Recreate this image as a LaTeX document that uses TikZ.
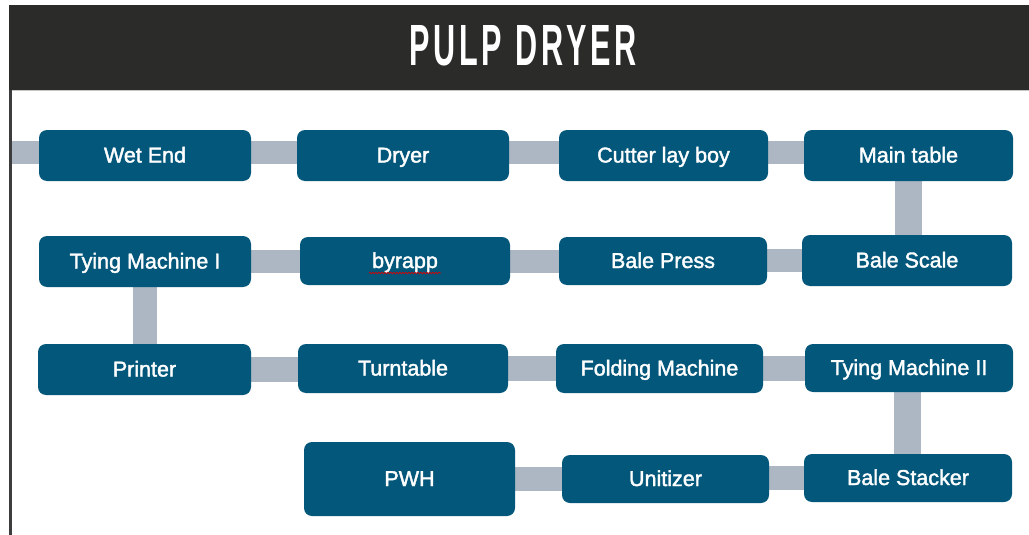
\documentclass[tikz,border=0pt]{standalone}
\usepackage{fontspec}
\setmainfont{Liberation Sans}
\newfontfamily\stagefont[FakeBold=1.8]{Liberation Sans}
\newfontfamily\titlefont[LetterSpace=12]{Liberation Sans Bold}
\usetikzlibrary{calc,decorations.pathmorphing,backgrounds}
\definecolor{boxblue}{HTML}{03577A}
\definecolor{bandgray}{HTML}{ADB7C3}
\definecolor{headdark}{HTML}{2B2B29}
\definecolor{edgegray}{HTML}{3C3C3C}
\tikzset{
  stage/.style={fill=boxblue, rounded corners=8pt, inner sep=0pt,
    text=white, font=\stagefont\fontsize{21.5}{24}\selectfont,
    text height=16.5pt, text depth=2.5pt,
    minimum width=#1, minimum height=49pt},
  stage/.default=209pt,
  band/.style={draw=bandgray, line width=23pt},
}
\begin{document}
\begin{tikzpicture}[x=1pt, y=-1pt]
  \useasboundingbox (0,0) rectangle (1029,535);

  % title bar
  \fill[headdark] (9,5) rectangle (1029,90);
  \draw[gray!45, line width=1pt] (9,90.5) -- (1029,90.5);
  \draw[edgegray, line width=2.5pt] (10.5,90) -- (10.5,535);
  \node (title) at (523,46) {\color{white}\resizebox{227pt}{40pt}{\titlefont PULP\hspace{0.45em}DRYER}};

  % stages, row by row
  \node[stage=212pt, minimum height=51pt] (wet)   at (145,155.5) {Wet End};
  \node[stage=212pt, minimum height=51pt] (dry)   at (403,155.5) {Dryer};
  \node[stage, minimum height=51pt]       (cut)   at (663.5,155.5) {Cutter lay boy};
  \node[stage, minimum height=51pt]       (main)  at (908.5,155.5) {Main table};

  \node[stage=212pt, minimum height=51pt] (tyone) at (145,261.5) {Tying Machine I};
  \node[stage=210pt, minimum height=48pt] (byr)   at (405,261) {byrapp};
  \node[stage=208pt, minimum height=48pt] (press) at (663,261) {Bale Press};
  \node[stage=210pt, minimum height=51pt] (scale) at (907,260.5) {Bale Scale};

  \node[stage=213pt, minimum height=51pt] (print) at (144.5,369.5) {Printer};
  \node[stage=210pt]                      (turn)  at (403,368.5) {Turntable};
  \node[stage=207pt]                      (fold)  at (659.5,368.5) {Folding Machine};
  \node[stage=208pt, minimum height=48pt] (tytwo) at (909,368) {Tying Machine II};

  \node[stage=211pt, minimum height=74pt] (pwh)   at (409.5,479) {PWH};
  \node[stage=207pt, minimum height=48pt] (unit)  at (665.5,479) {Unitizer};
  \node[stage=208pt, minimum height=48pt] (stack) at (908,478) {Bale Stacker};

  % spell-check mark under the word
  \draw[red!85!black, line width=0.7pt,
        decorate, decoration={snake, amplitude=0.8pt, segment length=3pt}]
    ($(byr.center)+(-36,12)$) -- ($(byr.center)+(36,12)$);

  % conveyor bands behind the stages
  \coordinate (feed) at (12,152);
  \begin{scope}[on background layer]
    \fill[white] (0,0) rectangle (1029,535);
    \draw[band] (feed) -- (feed -| wet);
    \draw[band] ([yshift=3.5pt]wet.center) -- ([yshift=3.5pt]wet.center -| dry);
    \draw[band] ([yshift=3.5pt]dry.center) -- ([yshift=3.5pt]dry.center -| cut);
    \draw[band] ([yshift=3.5pt]cut.center) -- ([yshift=3.5pt]cut.center -| main);
    \draw[band, line width=27pt] (main) -- (main |- scale);
    \draw[band] (scale) -- (scale -| press);
    \draw[band] (press) -- (press -| byr);
    \draw[band] (byr) -- (byr -| tyone);
    \draw[band, line width=24pt] (tyone) -- (tyone |- print);
    \draw[band, line width=25pt] (print) -- (print -| turn);
    \draw[band, line width=25pt] (turn) -- (turn -| fold);
    \draw[band, line width=25pt] (fold) -- (fold -| tytwo);
    \draw[band, line width=27pt] ([xshift=-2pt]tytwo.center) -- ([xshift=-2pt]tytwo.center |- stack);
    \draw[band, line width=24pt] (stack) -- (stack -| unit);
    \draw[band, line width=24pt] (unit) -- (unit -| pwh);
  \end{scope}
\end{tikzpicture}
\end{document}
